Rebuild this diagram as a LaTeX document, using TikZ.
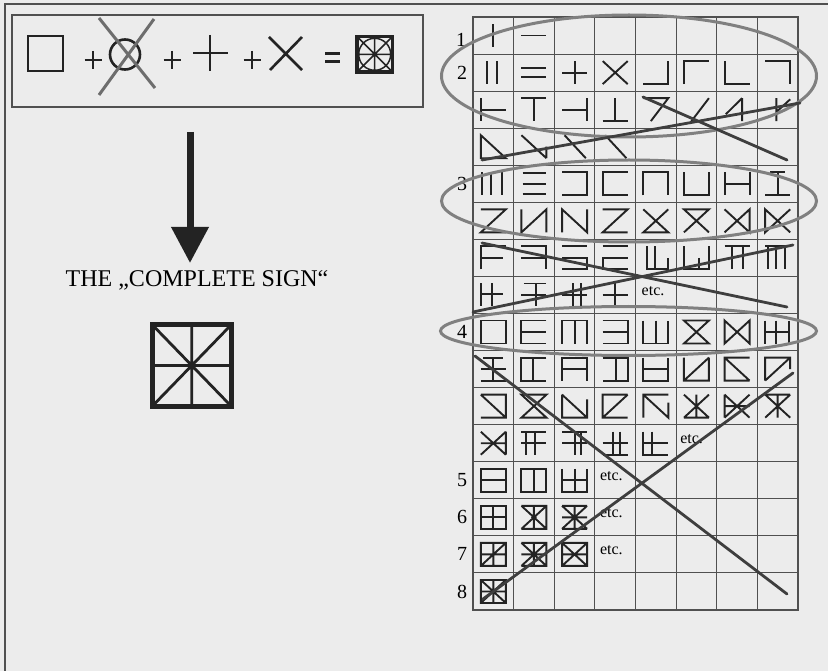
\documentclass[tikz,border=0pt]{standalone}
\usepackage{fontspec}
\setmainfont{Liberation Serif}
\usetikzlibrary{arrows.meta,positioning}

\definecolor{paper}{RGB}{236,236,236}
\definecolor{ink}{RGB}{35,35,35}
\definecolor{framegrey}{RGB}{80,80,80}
\definecolor{ringgrey}{RGB}{128,128,128}
\definecolor{strikegrey}{RGB}{62,62,62}

\tikzset{
  sign/.style={
    draw=ink,
    line width=1.9pt
  },
  ring/.style={
    draw=ringgrey,
    line width=3pt
  },
  strike/.style={
    draw=strikegrey,
    line width=2.8pt,
    line cap=round
  },
  gridline/.style={
    draw=framegrey,
    line width=0.9pt
  },
  rowno/.style={
    font=\fontsize{20}{20}\selectfont,
    inner sep=0pt
  },
  etc/.style={
    font=\fontsize{16}{16}\selectfont,
    anchor=west,
    inner sep=0pt
  },
  bigarrow/.style={
    draw=ink,
    line width=7pt,
    -{Triangle[length=36pt,width=36pt]}
  }
}

% one sign in cell (column, row) of the table
\newcommand{\rune}[3]{%
  \begin{scope}[shift={({473+(#1-0.5)*40.625},{17+(#2-0.5)*37.0625})}, x=12.5pt, y=11.5pt]
    \draw[sign] #3;
  \end{scope}}

\begin{document}
\begin{tikzpicture}[x=1pt, y=-1pt]
  \useasboundingbox (0,0) rectangle (828,671);
  \fill[paper] (0,0) rectangle (828,671);
  \draw[framegrey, line width=1.5pt] (828,4) -- (5,4) -- (5,671);

  % the sum of the four elements
  \node[draw=framegrey, line width=1.3pt, minimum width=411pt, minimum height=92pt, inner sep=0pt] (formula) at (217.5,61) {};
  \draw[sign, line width=2.6pt] (28,36) rectangle (63,71);
  \foreach \px in {93,172,252}
    \draw[sign, line width=2.6pt] (\px-8.5,60) -- (\px+8.5,60) (\px,51) -- (\px,69);
  \draw[sign, line width=2.6pt] (125,54.5) circle (15pt);
  \draw[draw=ringgrey!85!black, line width=3pt] (99,18) -- (155,88) (154,19) -- (99,95);
  \draw[sign, line width=2.6pt] (193,53) -- (228,53) (210,35) -- (210,71);
  \draw[sign, line width=2.6pt] (269,37) -- (302,70) (302,37) -- (270,70);
  \draw[sign, line width=3pt] (325,53.5) -- (340,53.5) (325,61.5) -- (340,61.5);
  \draw[sign, line width=1.5pt] (374.7,54.3) circle (16pt)
    (357,36.5) -- (392.5,72) (392.5,36.5) -- (357,72)
    (374.7,36.5) -- (374.7,72) (357,54.3) -- (392.5,54.3);
  \draw[sign, line width=3.5pt] (357,36.5) rectangle (392.5,72);

  % arrow down to the complete sign
  \coordinate (arrowtop) at (190,132);
  \coordinate (arrowtip) at (190,263);
  \draw[bigarrow] (arrowtop) -- (arrowtip);
  \node[font=\fontsize{24}{24}\selectfont, anchor=base, inner sep=0pt] (title) at (197,287) {THE „COMPLETE SIGN“};
  \draw[ink, line width=2.8pt] (152,324.5) -- (231.5,406.5) (231.5,324.5) -- (152,406.5)
    (191.7,324.5) -- (191.7,406.5) (152,365.5) -- (231.5,365.5);
  \draw[ink, line width=5pt] (152,324.5) rectangle (231.5,406.5);
  \fill[ink] (191.7,365.5) circle (3.5pt);

  % table
  \foreach \c in {0,...,8}
    \draw[gridline] ({473+\c*40.625},17) -- ({473+\c*40.625},610);
  \foreach \r in {0,...,16}
    \draw[gridline] (473,{17+\r*37.0625}) -- (798,{17+\r*37.0625});
  \draw[gridline, line width=1.6pt] (473,17) rectangle (798,610);

  \node[rowno] (lab1) at (461,40) {1};
  \foreach \n/\r in {2/2,3/5,4/9,5/13,6/14,7/15,8/16}
    \node[rowno] (lab\n) at (462,{17+(\r-0.5)*37.0625}) {\n};
  \foreach \c/\r/\dx in {5/8/6,6/12/4,4/13/5,4/14/5,4/15/5}
    \node[etc] (etc\c\r) at ({473+(\c-1)*40.625+\dx},{17+(\r-0.5)*37.0625-4}) {etc.};

  % row 1 and 2
  \rune{1}{1}{(0,1)--(0,-1)}
  \rune{2}{1}{(-1,0)--(1,0)}
  \rune{1}{2}{(-0.5,1)--(-0.5,-1) (0.3,1)--(0.3,-1)}
  \rune{2}{2}{(-1,0.4)--(1,0.4) (-1,-0.4)--(1,-0.4)}
  \rune{3}{2}{(-1,0)--(1,0) (0,1)--(0,-1)}
  \rune{4}{2}{(-1,1)--(1,-1) (1,1)--(-1,-1)}
  \rune{5}{2}{(-1,-1)--(1,-1)--(1,1)}
  \rune{6}{2}{(-1,-1)--(-1,1)--(1,1)}
  \rune{7}{2}{(-1,1)--(-1,-1)--(1,-1)}
  \rune{8}{2}{(-1,1)--(1,1)--(1,-1)}
  \rune{1}{3}{(-1,1)--(-1,-1) (-1,0)--(1,0)}
  \rune{2}{3}{(-1,1)--(1,1) (0,1)--(0,-1)}
  \rune{3}{3}{(1,1)--(1,-1) (1,0)--(-1,0)}
  \rune{4}{3}{(-1,-1)--(1,-1) (0,1)--(0,-1)}
  \rune{5}{3}{(-1,1)--(1,1)--(-0.4,-1)}
  \rune{6}{3}{(1,1)--(-0.4,-1)}
  \rune{7}{3}{(0.4,1)--(-0.9,-0.4) (0.4,1)--(0.4,-1)}
  \rune{8}{3}{(-0.1,1)--(-0.1,-1) (1,0.9)--(-0.1,-0.2)}
  \rune{1}{4}{(-1,1)--(-1,-1)--(1,-1)--cycle}
  \rune{2}{4}{(-1,1)--(1,-1) (1,0)--(1,-1)}
  \rune{3}{4}{(-0.8,1)--(0.9,-1)}
  \rune{4}{4}{(-0.8,1)--(0.9,-1)}

  % row 3
  \rune{1}{5}{(-0.9,1)--(-0.9,-1) (-0.2,1)--(-0.2,-1) (0.7,1)--(0.7,-1)}
  \rune{2}{5}{(-0.9,0.9)--(1,0.9) (-0.9,0)--(1,0) (-0.9,-0.9)--(1,-0.9)}
  \rune{3}{5}{(-1,1)--(1,1)--(1,-1)--(-1,-1)}
  \rune{4}{5}{(1,1)--(-1,1)--(-1,-1)--(1,-1)}
  \rune{5}{5}{(-1,-1)--(-1,1)--(1,1)--(1,-1)}
  \rune{6}{5}{(-1,1)--(-1,-1)--(1,-1)--(1,1)}
  \rune{7}{5}{(-1,1)--(-1,-1) (1,1)--(1,-1) (-1,0)--(1,0)}
  \rune{8}{5}{(-0.6,1)--(0.6,1) (0,1)--(0,-1) (-1,-1)--(1,-1)}
  \rune{1}{6}{(-1,1)--(1,1)--(-1,-1)--(1,-1)}
  \rune{2}{6}{(-1,1)--(-1,-1)--(1,1)--(1,-1)}
  \rune{3}{6}{(-1,-1)--(-1,1)--(1,-1)--(1,1)}
  \rune{4}{6}{(-1,1)--(1,1)--(-1,-1)--(1,-1)}
  \rune{5}{6}{(-1,1)--(1,-1)--(-1,-1)--(1,1)}
  \rune{6}{6}{(-1,-1)--(1,1)--(-1,1)--(1,-1)}
  \rune{7}{6}{(-1,1)--(1,-1)--(1,1)--(-1,-1)}
  \rune{8}{6}{(1,1)--(-1,-1)--(-1,1)--(1,-1)}
  \rune{1}{7}{(-1,-1)--(-1,1)--(1,1) (-1,0)--(0.8,0)}
  \rune{2}{7}{(-1,1)--(1,1)--(1,-1) (-1,0)--(1,0)}
  \rune{3}{7}{(-1,1)--(1,1) (-1,0)--(1,0)--(1,-1)--(-1,-1)}
  \rune{4}{7}{(-1,1)--(1,1) (1,0)--(-1,0)--(-1,-1)--(1,-1)}
  \rune{5}{7}{(-0.7,1)--(-0.7,-1)--(1,-1)--(1,0) (-0.1,1)--(-0.1,-1)}
  \rune{6}{7}{(-1,1)--(-1,-1)--(1,-1)--(1,1) (0.2,0)--(0.2,-1)}
  \rune{7}{7}{(-1,1)--(1,1) (-0.4,1)--(-0.4,-1) (0.5,1)--(0.5,-1)}
  \rune{8}{7}{(-1,1)--(1,1) (-0.8,1)--(-0.8,-1) (-0.1,1)--(-0.1,-1) (0.6,1)--(0.6,-1)}
  \rune{1}{8}{(-1,1)--(-1,-1) (-0.1,1)--(-0.1,-1) (-1,0.1)--(0.8,0.1)}
  \rune{2}{8}{(-0.8,1)--(1,1) (-1,0)--(1,0) (0.2,1)--(0.2,-1)}
  \rune{3}{8}{(-0.1,1)--(-0.1,-1) (0.5,1)--(0.5,-1) (-1,0)--(1,0)}
  \rune{4}{8}{(0,1)--(0,-1) (-1,0)--(1,0)}

  % row 4
  \rune{1}{9}{(-1,-1) rectangle (1,1)}
  \rune{2}{9}{(1,1)--(-1,1)--(-1,-1)--(1,-1) (-1,0)--(1,0)}
  \rune{3}{9}{(-1,-1)--(-1,1)--(1,1)--(1,-1) (0,1)--(0,-1)}
  \rune{4}{9}{(-1,1)--(1,1)--(1,-1)--(-1,-1) (-1,0)--(1,0)}
  \rune{5}{9}{(-1,1)--(-1,-1)--(1,-1)--(1,1) (0,1)--(0,-1)}
  \rune{6}{9}{(-1,1)--(1,1)--(-1,-1)--(1,-1)--cycle}
  \rune{7}{9}{(-1,1)--(-1,-1)--(1,1)--(1,-1)--cycle}
  \rune{8}{9}{(-1,1)--(-1,-1) (-0.15,1)--(-0.15,-1) (0.9,1)--(0.9,-1) (-1,0)--(1,0)}
  \rune{1}{10}{(-0.8,1)--(0.8,1) (-1,0)--(1,0) (-1,-1)--(1,-1) (0,1)--(0,-1)}
  \rune{2}{10}{(1,1)--(-1,1)--(-1,-1)--(1,-1) (-0.1,1)--(-0.1,-1)}
  \rune{3}{10}{(-1,-1)--(-1,1)--(1,1)--(1,-1) (-1,0)--(1,0)}
  \rune{4}{10}{(-1,1)--(1,1)--(1,-1)--(-1,-1) (0.1,1)--(0.1,-1)}
  \rune{5}{10}{(-1,1)--(-1,-1)--(1,-1)--(1,1) (-1,0)--(1,0)}
  \rune{6}{10}{(-1,1)--(-1,-1)--(1,-1)--(1,1) (-1,-1)--(1,1)}
  \rune{7}{10}{(1,1)--(-1,1)--(-1,-1)--(1,-1) (-1,1)--(1,-1)}
  \rune{8}{10}{(-1,-1)--(-1,1)--(1,1)--(1,0) (1,1)--(-1,-1)}
  \rune{1}{11}{(-1,1)--(1,1)--(1,-1)--(-1,-1) (-1,1)--(1,-1)}
  \rune{2}{11}{(-1,1)--(1,1)--(-1,-1)--(1,-1)--cycle}
  \rune{3}{11}{(-1,1)--(-1,-1)--(1,-1)--(1,0.6) (-1,1)--(1,-1)}
  \rune{4}{11}{(1,1)--(-1,1)--(-1,-1)--(1,-1) (1,1)--(-1,-1)}
  \rune{5}{11}{(-1,-1)--(-1,1)--(1,1) (-1,1)--(1,-1)--(1,0.3)}
  \rune{6}{11}{(-1,1)--(1,-1) (1,1)--(-1,-1) (0,1)--(0,-1) (-1,-1)--(1,-1)}
  \rune{7}{11}{(-1,1)--(-1,-1) (-1,1)--(1,-1) (1,1)--(-1,-1) (-1,0)--(1,0)}
  \rune{8}{11}{(-1,1)--(1,-1) (1,1)--(-1,-1) (0,1)--(0,-1) (-1,1)--(1,1)}
  \rune{1}{12}{(-1,1)--(1,-1) (1,1)--(-1,-1) (1,1)--(1,-1) (-1,0)--(1,0)}
  \rune{2}{12}{(-1,1)--(1,1) (-1,0)--(1,0) (-0.6,1)--(-0.6,-1) (0.1,1)--(0.1,-1)}
  \rune{3}{12}{(-1,1)--(1,1) (-1,0)--(1,0) (0,1)--(0,-1) (0.55,1)--(0.55,-1)}
  \rune{4}{12}{(-0.2,1)--(-0.2,-1) (0.35,1)--(0.35,-1) (-1,0)--(1,0) (-1,-1)--(1,-1)}
  \rune{5}{12}{(-1,1)--(-1,-1)--(1,-1) (-0.3,1)--(-0.3,-1) (-1,0)--(1,0)}

  % rows 5 to 8
  \rune{1}{13}{(-1,-1) rectangle (1,1) (-1,0)--(1,0)}
  \rune{2}{13}{(-1,-1) rectangle (1,1) (0,1)--(0,-1)}
  \rune{3}{13}{(-1,1)--(-1,-1)--(1,-1)--(1,1) (0,1)--(0,-1) (-1,0)--(1,0)}
  \rune{1}{14}{(-1,-1) rectangle (1,1) (-1,0)--(1,0) (0,1)--(0,-1)}
  \rune{2}{14}{(-1,1)--(1,1)--(1,-1)--(-1,-1) (-1,1)--(1,-1) (1,1)--(-1,-1) (0,1)--(0,-1) (0,0) circle[radius=0.12]}
  \rune{3}{14}{(-1,1)--(1,1) (-1,-1)--(1,-1) (-1,1)--(1,-1) (1,1)--(-1,-1) (0,1)--(0,-1) (-1,0)--(1,0) (0,0) circle[radius=0.12]}
  \rune{1}{15}{(-1,-1) rectangle (1,1) (-1,0)--(1,0) (0,1)--(0,-1) (1,1)--(-1,-1)}
  \rune{2}{15}{(-1,1)--(1,1)--(1,-1)--(-1,-1) (-1,1)--(1,-1) (1,1)--(-1,-1) (0,1)--(0,-1) (-1,0)--(1,0) (0,0) circle[radius=0.12]}
  \rune{3}{15}{(-1,-1) rectangle (1,1) (-1,1)--(1,-1) (1,1)--(-1,-1) (-1,0)--(1,0)}
  \rune{1}{16}{(-1,-1) rectangle (1,1) (-1,1)--(1,-1) (1,1)--(-1,-1) (0,1)--(0,-1) (-1,0)--(1,0) (0,0) circle[radius=0.12]}

  % ellipses and crossings
  \draw[ring] (629,76) ellipse [x radius=187.5pt, y radius=61pt];
  \draw[ring] (629,201) ellipse [x radius=187.5pt, y radius=41pt];
  \draw[ring] (628.5,331) ellipse [x radius=188pt, y radius=24.5pt];
  \draw[strike] (643,97) -- (787,160) (482,160) -- (800,103);
  \draw[strike] (482,243) -- (787,307) (473,312) -- (793,245);
  \draw[strike] (475,356) -- (787,594) (793,373) -- (483,599);
\end{tikzpicture}
\end{document}
